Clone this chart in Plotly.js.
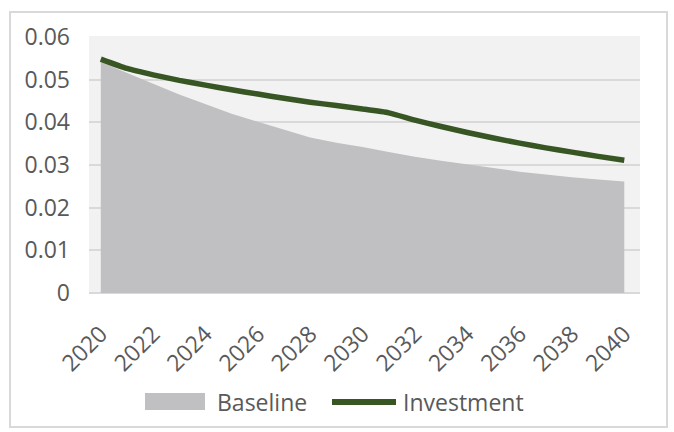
<!DOCTYPE html>
<html>
<head>
<meta charset="utf-8">
<script src="https://cdn.plot.ly/plotly-3.0.1.min.js"></script>
<style>
  html, body { margin: 0; padding: 0; background: #ffffff; }
  #wrap { position: relative; width: 674px; height: 432px; }
  #chart { width: 674px; height: 432px; }
  #frame { position: absolute; left: 9px; top: 11px; width: 655px; height: 413px;
           border: 2px solid #d9d9d9; pointer-events: none; }
</style>
</head>
<body>
<div id="wrap">
  <div id="chart"></div>
  <div id="frame"></div>
</div>
<script>
const years = [2020, 2021, 2022, 2023, 2024, 2025, 2026, 2027, 2028, 2029, 2030,
               2031, 2032, 2033, 2034, 2035, 2036, 2037, 2038, 2039, 2040];
const baseline = [0.0541, 0.0515, 0.0490, 0.0465, 0.0442, 0.0420, 0.0401, 0.0382, 0.0364, 0.0352, 0.0342,
                  0.0330, 0.0319, 0.0310, 0.0302, 0.0293, 0.0284, 0.0277, 0.0271, 0.0266, 0.0261];
const investment = [0.0548, 0.0526, 0.0511, 0.0498, 0.0487, 0.0476, 0.0466, 0.0456, 0.0447, 0.0439, 0.0431,
                    0.0422, 0.0405, 0.0390, 0.0376, 0.0363, 0.0351, 0.0340, 0.0330, 0.0320, 0.0311];
const yTicks = [0, 0.01, 0.02, 0.03, 0.04, 0.05, 0.06];
const yTickText = ['0', '0.01', '0.02', '0.03', '0.04', '0.05', '0.06'];
const xTicks = [2020, 2022, 2024, 2026, 2028, 2030, 2032, 2034, 2036, 2038, 2040];
const seriesNames = ['Baseline', 'Investment'];
const seriesColors = ['#c0c0c2', '#375623'];

const FONT = '"Open Sans", "DejaVu Sans", sans-serif';
const TXT = '#595959';
const FS = 23;

// plot-area geometry used to place the hand-made legend (paper coords)
const PL = 89, PR = 640, PT = 36, PB = 293;
const px = v => (v - PL) / (PR - PL);
const py = v => (PB - v) / (PB - PT);

const traces = [
  {
    x: years, y: baseline, name: seriesNames[0], type: 'scatter', mode: 'lines',
    fill: 'tozeroy', fillcolor: seriesColors[0],
    line: { color: seriesColors[0], width: 0 },
    showlegend: false
  },
  {
    x: years, y: investment, name: seriesNames[1], type: 'scatter', mode: 'lines',
    line: { color: seriesColors[1], width: 5.5, shape: 'spline', smoothing: 0.5 },
    showlegend: false
  }
];

const legendY = 402;
const layout = {
  width: 674, height: 432,
  margin: { l: PL, r: 674 - PR, t: PT, b: 432 - PB },
  paper_bgcolor: '#ffffff',
  plot_bgcolor: '#f2f2f2',
  font: { family: FONT, color: TXT, size: FS },
  showlegend: false,
  xaxis: {
    range: [2019.55, 2040.6],
    tickmode: 'array', tickvals: xTicks, ticktext: xTicks.map(String),
    tickangle: -45, ticklabelstandoff: 22,
    showgrid: false, zeroline: false, showline: false,
    ticks: '', tickfont: { family: FONT, color: TXT, size: FS },
    fixedrange: true
  },
  yaxis: {
    range: [0, 0.0602],
    tickmode: 'array', tickvals: yTicks, ticktext: yTickText,
    showgrid: true, gridcolor: '#d9d9d9', gridwidth: 2,
    zeroline: true, zerolinecolor: '#d9d9d9', zerolinewidth: 2,
    showline: false, ticks: '', ticklabelstandoff: 18,
    tickfont: { family: FONT, color: TXT, size: FS },
    fixedrange: true
  },
  shapes: [
    { type: 'rect', xref: 'paper', yref: 'paper',
      x0: px(145), x1: px(205), y0: py(410), y1: py(393),
      fillcolor: seriesColors[0], line: { width: 0 } },
    { type: 'line', xref: 'paper', yref: 'paper',
      x0: px(332), x1: px(396), y0: py(legendY), y1: py(legendY),
      line: { color: seriesColors[1], width: 6 } }
  ],
  annotations: [
    { xref: 'paper', yref: 'paper', x: px(215), y: py(legendY), xanchor: 'left', yanchor: 'middle',
      text: seriesNames[0], showarrow: false, font: { family: FONT, color: TXT, size: FS } },
    { xref: 'paper', yref: 'paper', x: px(401), y: py(legendY), xanchor: 'left', yanchor: 'middle',
      text: seriesNames[1], showarrow: false, font: { family: FONT, color: TXT, size: FS } }
  ]
};

Plotly.newPlot('chart', traces, layout, { displayModeBar: false, staticPlot: true });
</script>
</body>
</html>
